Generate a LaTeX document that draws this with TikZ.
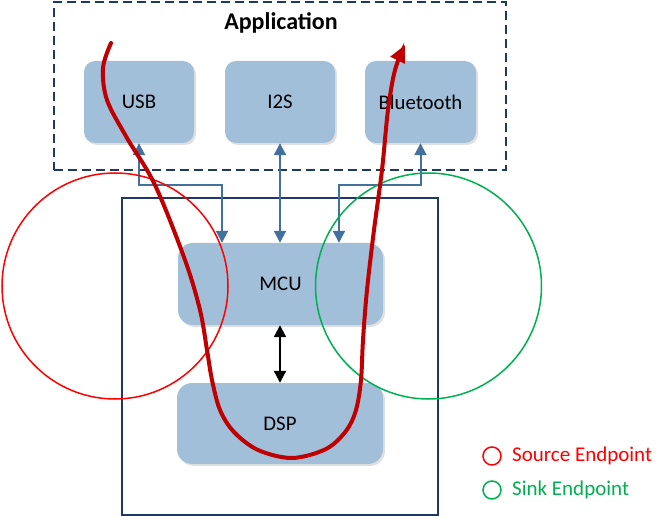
\documentclass[tikz,border=0pt]{standalone}
\usepackage{fontspec}
\setmainfont{Carlito}
\usetikzlibrary{arrows.meta,shadows}
\definecolor{boxblue}{RGB}{162,191,218}
\definecolor{connblue}{RGB}{65,113,156}
\definecolor{navy}{RGB}{31,56,100}
\definecolor{darkred}{RGB}{192,0,0}
\definecolor{sinkgreen}{RGB}{0,176,80}
\tikzset{
  blk/.style={fill=boxblue, rounded corners=11, inner sep=0, font=\fontsize{20.8}{25}\selectfont,
    drop shadow={shadow xshift=2pt, shadow yshift=-2pt, opacity=0.12, fill=black}},
  conn/.style={draw=connblue, line width=2, {Triangle[length=12,width=12]}-{Triangle[length=12,width=12]}},
  endpt/.style={circle, inner sep=0, line width=1.5, fill=none},
  legtxt/.style={anchor=west, inner sep=0, font=\fontsize{21}{25}\selectfont},
  flow/.style={draw=darkred, line width=4, line cap=round, -{Triangle[length=17,width=15]}}
}
\begin{document}
\begin{tikzpicture}[x=1pt,y=-1pt]
\useasboundingbox (0,0) rectangle (665,516);
% frames
\node[draw=navy, dash pattern=on 9 off 5, line width=2.2, minimum width=452, minimum height=168, inner sep=0] (app) at (280,86) {};
\node[font=\bfseries\fontsize{24}{28}\selectfont] (apptitle) at (281,23) {Application};
\node[draw=navy, line width=1.5, minimum width=316, minimum height=317, inner sep=0] (chip) at (280,356.5) {};
% blocks
\node[blk, minimum width=110, minimum height=82] (usb) at (139,102) {USB};
\node[blk, minimum width=110, minimum height=82] (i2s) at (280,102) {I2S};
\node[blk, minimum width=111, minimum height=82] (bt) at (420.5,102) {Bluetooth};
\node[blk, minimum width=205, minimum height=82, rounded corners=15] (mcu) at (280.5,284) {MCU};
\node[blk, minimum width=206, minimum height=81, rounded corners=15] (dsp) at (280,423.5) {DSP};
% connectors
\coordinate (ua) at (222,185);
\coordinate (ba) at (339,185);
\draw[conn] (usb.south) |- (ua) -- (ua |- mcu.north);
\draw[conn] (i2s.south) -- (mcu.north -| i2s.south);
\draw[conn] (bt.south) |- (ba) -- (ba |- mcu.north);
\draw[line width=2, {Triangle[length=12,width=12]}-{Triangle[length=12,width=12]}] (mcu.south -| 280,0) -- (dsp.north -| 280,0);
% endpoints
\node[endpt, draw=red, minimum size=226] (src) at (115,286) {};
\node[endpt, draw=sinkgreen, minimum size=226] (snk) at (428.5,286) {};
% data flow
\draw[flow] plot[smooth, tension=0.55] coordinates {(111,43) (103,68) (107,100) (127,138) (155,185) (185,260) (200,310) (207,350) (212,380) (220,410) (234,432) (258,450) (292,458) (326,449) (346,431) (356,410) (361,380) (363,340) (367,290) (374,230) (382,170) (388,110) (395,70) (405,45)};
% legend
\node[endpt, draw=red, minimum size=18] (lsrc) at (492,456) {};
\node[legtxt, text=red] (lsrctxt) at (512,456) {Source Endpoint};
\node[endpt, draw=sinkgreen, minimum size=18] (lsnk) at (492,490) {};
\node[legtxt, text=sinkgreen] (lsnktxt) at (512,490) {Sink Endpoint};
\end{tikzpicture}
\end{document}
